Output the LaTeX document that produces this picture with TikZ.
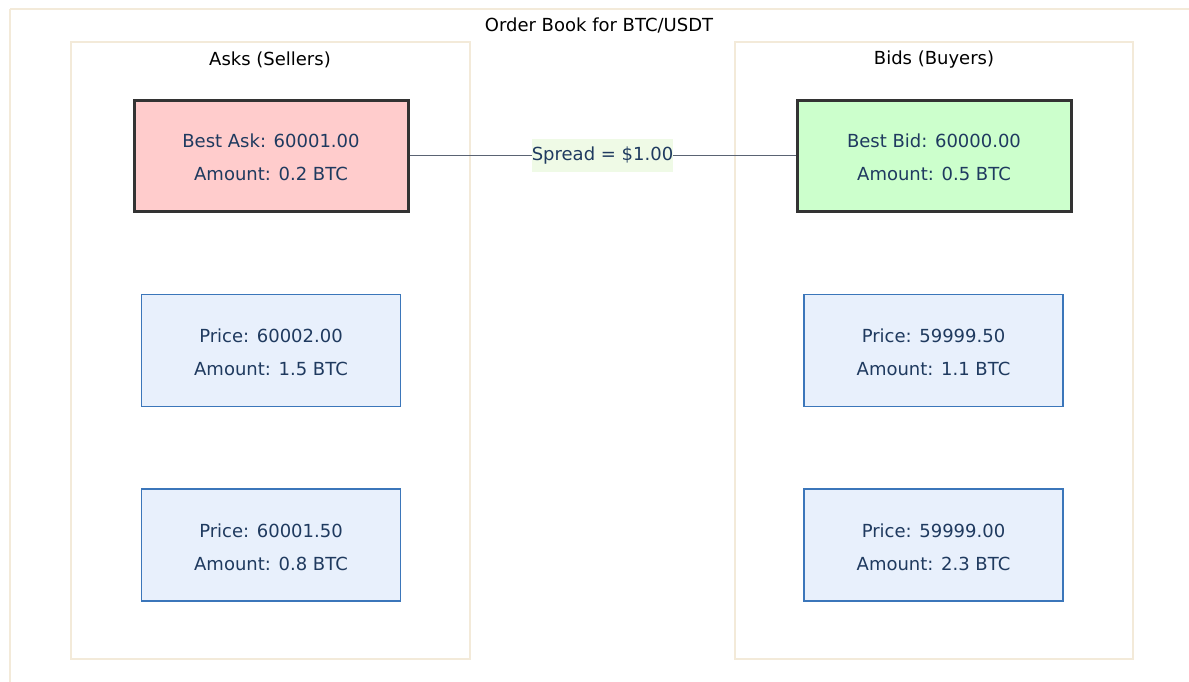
\documentclass[tikz,border=0pt]{standalone}
\usepackage{fontspec}
\setmainfont{DejaVu Sans}
\definecolor{clusterline}{HTML}{F3EAD9}
\definecolor{navytext}{HTML}{1F3A5F}
\definecolor{askfill}{HTML}{FFCCCC}
\definecolor{bidfill}{HTML}{CCFFCC}
\definecolor{levelfill}{HTML}{E8F0FC}
\definecolor{levelline}{HTML}{3B76BA}
\definecolor{edgeline}{HTML}{5A6373}
\definecolor{labelfill}{HTML}{EFFAE6}
\definecolor{strongline}{HTML}{333333}
% invisible strut that gives the first text line a little extra head room
\newcommand\obfirstline{\rule{0pt}{18pt}}
\begin{document}
\begin{tikzpicture}[x=1pt,y=-1pt,
  font=\fontsize{18}{33}\selectfont,
  cluster/.style={draw=clusterline, line width=1.2pt},
  best/.style={draw=strongline, line width=3pt, text=navytext, minimum width=274pt, minimum height=111pt, align=center, inner sep=0pt},
  level/.style={draw=levelline, line width=1.2pt, fill=levelfill, text=navytext, minimum width=259pt, minimum height=112pt, align=center, inner sep=0pt},
  heading/.style={text=black, inner sep=0pt, anchor=center}]
\useasboundingbox (0,0) rectangle (1189,681);
% outer and inner frames
\draw[cluster] (10,9) -- (1195,9);
\draw[cluster] (10,9) -- (10,690);
\draw[cluster] (71,42) rectangle (470,659);
\draw[cluster] (735,42) rectangle (1133,659);
\node[heading] (title) at (599,25) {Order Book for BTC/USDT};
\node[heading] (asks) at (270,59.5) {Asks (Sellers)};
\node[heading] (bids) at (934,59.5) {Bids (Buyers)};
% order levels
\node[best, fill=askfill] (bestask) at (271,155.5) {\obfirstline Best Ask: 60001.00\\Amount: 0.2 BTC};
\node[best, fill=bidfill] (bestbid) at (934,155.5) {\obfirstline Best Bid: 60000.00\\Amount: 0.5 BTC};
\node[level] (ask2) at (271,350.5) {\obfirstline Price: 60002.00\\Amount: 1.5 BTC};
\node[level] (ask3) at (271,545) {\obfirstline Price: 60001.50\\Amount: 0.8 BTC};
\node[level] (bid2) at (933.5,350.5) {\obfirstline Price: 59999.50\\Amount: 1.1 BTC};
\node[level] (bid3) at (933.5,545) {\obfirstline Price: 59999.00\\Amount: 2.3 BTC};
% spread connector
\draw[edgeline, line width=1.6pt] (bestask.east) -- node[fill=labelfill, text=navytext, inner xsep=0pt, inner ysep=0pt, minimum height=33pt] (spread) {Spread = \$1.00} (bestbid.west);
\end{tikzpicture}
\end{document}
